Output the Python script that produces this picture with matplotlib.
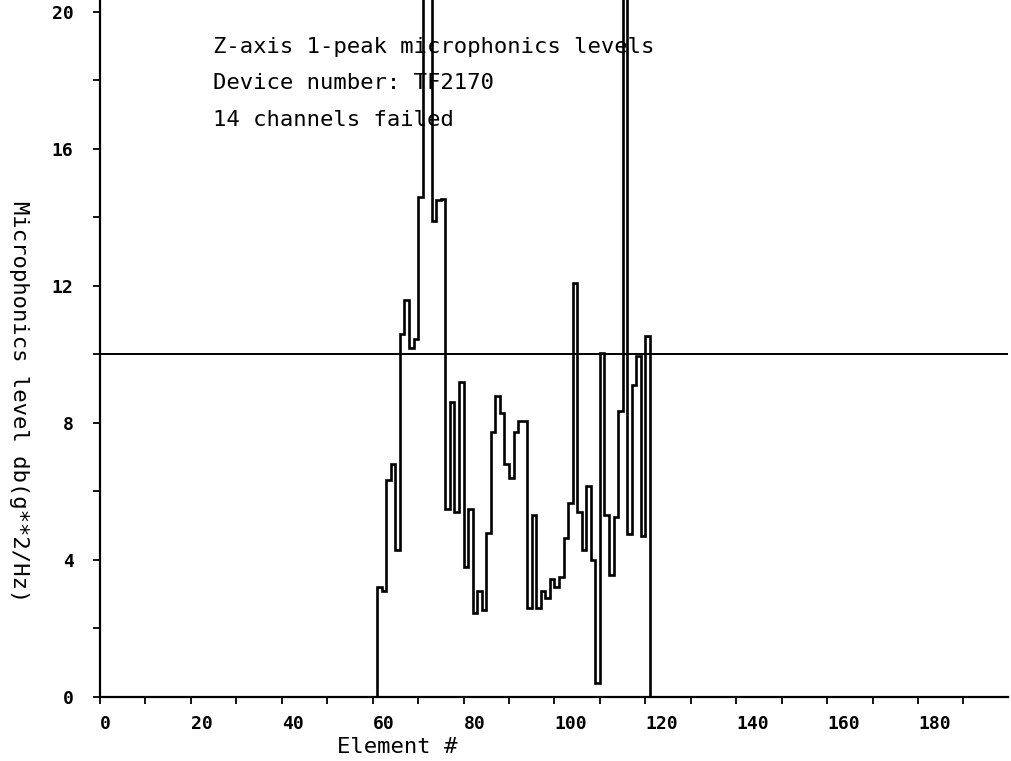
import numpy as np
import matplotlib
matplotlib.use("Agg")
import matplotlib.pyplot as plt

# ---- data ----
elements = list(range(61, 121))  # element numbers with a measured level
levels = [3.2, 3.1, 6.35, 6.8, 4.3, 10.6, 11.6, 10.2, 10.45, 14.6,
          25.0, 25.0, 13.9, 14.5, 14.55, 5.5, 8.6, 5.4, 9.2, 3.8,
          5.5, 2.45, 3.1, 2.55, 4.8, 7.75, 8.8, 8.3, 6.8, 6.4,
          7.75, 8.05, 8.05, 2.6, 5.3, 2.6, 3.1, 2.9, 3.45, 3.2,
          3.5, 4.65, 5.65, 12.1, 5.4, 4.3, 6.15, 4.0, 0.4, 10.05,
          5.3, 3.55, 5.25, 8.35, 25.0, 4.75, 9.1, 9.95, 4.7, 10.55]
threshold = 10
x_major = [0, 20, 40, 60, 80, 100, 120, 140, 160, 180]
y_major = [0, 4, 8, 12, 16, 20]
title_lines = ["Z-axis 1-peak microphonics levels",
               "Device number: TF2170",
               "14 channels failed"]
xlabel = "Element #"
ylabel = "Microphonics level db(g**2/Hz)"

FONT = "DejaVu Sans Mono"
W, H = 1011, 761
fig = plt.figure(figsize=(W / 100, H / 100), dpi=100)
ax = fig.add_axes([100 / W, (H - 697) / H, (1008 - 100) / W, 697 / H])

edges = np.append(np.array(elements, dtype=float), elements[-1] + 1)
ax.stairs(levels, edges, baseline=0, color="black", lw=1.9)
ax.axhline(threshold, color="black", lw=1.4)

ax.set_xlim(0, 199.8)
ax.set_ylim(0, 20.35)

for s in ("top", "right"):
    ax.spines[s].set_visible(False)
for s in ("left", "bottom"):
    ax.spines[s].set_linewidth(1.6)

ax.set_xticks(x_major)
ax.set_xticks(np.arange(10, 200, 20), minor=True)
ax.set_yticks(y_major)
ax.set_yticks(np.arange(2, 20, 4), minor=True)
ax.tick_params(which="both", direction="out", length=5, width=1.3, color="black")
ax.tick_params(axis="x", pad=8, labelsize=13)
ax.tick_params(axis="y", pad=14, labelsize=13)

for lab in ax.get_xticklabels():
    lab.set_fontfamily(FONT)
    lab.set_fontweight("bold")
    lab.set_horizontalalignment("left")
for lab in ax.get_yticklabels():
    lab.set_fontfamily(FONT)
    lab.set_fontweight("bold")

ys = [47, 83, 120]
for txt, py in zip(title_lines, ys):
    fig.text(213 / W, 1 - py / H, txt, ha="left", va="center",
             fontsize=16, family=FONT)

fig.text(397 / W, 1 - 747 / H, xlabel, ha="center", va="center",
         fontsize=16, family=FONT)
fig.text(19 / W, 1 - 402 / H, ylabel, ha="center", va="center",
         rotation=270, fontsize=16, family=FONT)

fig.savefig("out.png", dpi=100)
